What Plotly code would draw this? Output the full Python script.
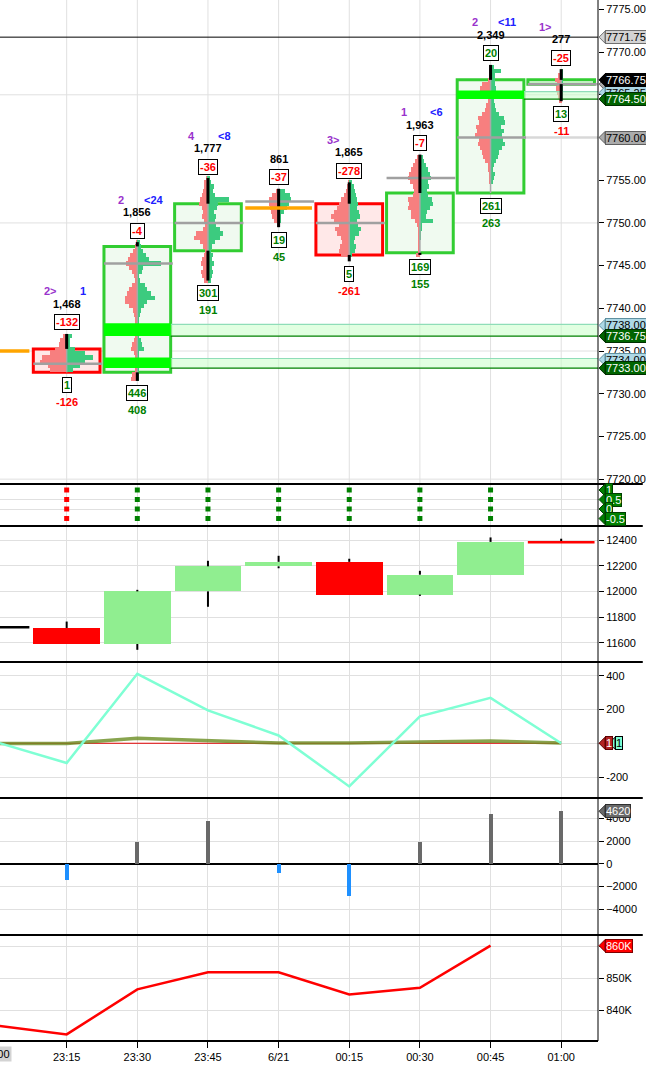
import plotly.graph_objects as go
from plotly.subplots import make_subplots

# ---------------- data ----------------
times = ["23:00", "23:15", "23:30", "23:45", "6/21", "00:15", "00:30", "00:45", "01:00"]

# main price bars (footprint candles)
opens  = [7735.00, 7735.25, 7732.50, 7746.75, 7751.75, 7752.25, 7746.50, 7753.50, 7766.25]
closes = [7735.00, 7732.50, 7747.25, 7752.25, 7751.75, 7746.25, 7753.50, 7766.75, 7766.75]
highs  = [7737.50, 7737.00, 7747.75, 7755.25, 7754.00, 7754.75, 7758.00, 7768.50, 7768.00]
lows   = [7732.25, 7732.50, 7731.50, 7743.25, 7749.50, 7745.50, 7746.25, 7753.50, 7764.25]
pocs   = [None, 7733.50, 7745.25, 7750.00, 7752.50, 7750.00, 7755.25, 7760.00, 7766.25]
poc_extended = [False, False, False, False, False, False, False, True, True]

# labels around each bar
sig_left  = ["", "2>", "2", "4", "", "3>", "1", "2", "1>"]
sig_right = ["", "1", "<24", "<8", "", "", "<6", "<11", ""]
volumes   = [None, 1468, 1856, 1777, 861, 1865, 1963, 2349, 277]
deltas    = [None, -132, -4, -36, -37, -278, -7, 20, -25]
box_low   = [None, 1, 446, 301, 19, 5, 169, 261, 13]
net_low   = [None, -126, 408, 191, 45, -261, 155, 263, -11]

# volume profiles: lowest price of each profile, then bid / ask volume per 0.5 pt row
profile_low = [None, 7732.75, 7731.75, 7743.25, 7749.75, 7746.25, 7746.25, 7754.75, 7764.25]
bid_b1 = [17, 19, 27, 25, 17, 12, 8, 7, 4]
ask_b1 = [6, 13, 18, 26, 18, 8, 3, 3, 5]
bid_b2 = [6, 5, 2, 2, 3, 2, 3, 6, 5, 3, 2, 2, 2, 2, 2, 3, 4, 8, 12, 12, 10, 8, 5, 2, 3, 5, 8, 11, 9, 7, 4, 2, 1]
ask_b2 = [1, 1, 1, 2, 2, 2, 2, 7, 5, 4, 2, 2, 3, 2, 2, 3, 4, 7, 10, 18, 14, 10, 8, 3, 2, 5, 6, 24, 12, 9, 6, 4, 3]
bid_b3 = [4, 6, 7, 5, 7, 6, 4, 3, 5, 8, 14, 12, 5, 3, 4, 6, 5, 6, 9, 8, 6, 5, 4, 4, 2]
ask_b3 = [3, 4, 5, 4, 6, 4, 5, 3, 4, 7, 12, 15, 12, 8, 7, 8, 6, 9, 10, 21, 7, 5, 6, 3, 2]
bid_b4 = [2, 5, 7, 8, 9, 10, 10, 7, 3]
ask_b4 = [1, 2, 2, 5, 8, 10, 12, 11, 6]
bid_b5 = [8, 10, 9, 7, 8, 12, 14, 10, 15, 18, 15, 12, 10, 8, 5, 3, 2, 1]
ask_b5 = [3, 6, 7, 5, 6, 10, 12, 9, 8, 11, 10, 8, 9, 8, 7, 6, 5, 3]
bid_b6 = [4, 1, 1, 1, 2, 2, 2, 3, 5, 9, 9, 12, 11, 12, 7, 6, 7, 10, 12, 11, 9, 7, 5, 3]
ask_b6 = [0, 0, 0, 0, 1, 1, 2, 2, 13, 6, 7, 10, 13, 12, 8, 7, 9, 8, 11, 10, 8, 6, 4, 3]
bid_b7 = [1, 1, 2, 3, 3, 6, 8, 9, 11, 13, 12, 16, 14, 15, 12, 13, 9, 6, 5, 3, 3, 4, 11, 9, 3, 2, 1, 0]
ask_b7 = [2, 3, 4, 2, 3, 5, 7, 8, 12, 15, 13, 12, 14, 11, 15, 14, 8, 5, 4, 3, 2, 2, 5, 4, 4, 4, 10, 3]
bid_b8 = [2, 3, 4, 5, 4, 6, 3, 1]
ask_b8 = [0, 1, 1, 1, 2, 2, 2, 2]
profile_bids = [None, bid_b1, bid_b2, bid_b3, bid_b4, bid_b5, bid_b6, bid_b7, bid_b8]
profile_asks = [None, ask_b1, ask_b2, ask_b3, ask_b4, ask_b5, ask_b6, ask_b7, ask_b8]

# imbalance zones (bar index, low, high)
zone_bar  = [2, 2, 7]
zone_low  = [7736.75, 7733.00, 7764.50]
zone_high = [7738.00, 7734.00, 7765.25]

last_high_line = 7771.75

# signal dots panel
dot_levels = [1, 0.5, 0, -0.5]
dot_signal = [None, -1, 1, 1, 1, 1, 1, 1, None]

# cumulative delta candles
cd_open  = [11720, 11715, 11590, 12000, 12195, 12230, 11975, 12130, 12386]
cd_close = [11720, 11590, 12000, 12195, 12230, 11975, 12130, 12385, 12378]
cd_high  = [11720, 11765, 12012, 12238, 12277, 12254, 12160, 12420, 12410]
cd_low   = [11720, 11590, 11545, 11880, 12180, 11975, 11965, 12130, 12378]

# oscillator lines
osc_aqua  = [8, -116, 411, 195, 47, -254, 160, 269, 1]
osc_olive = [0, 0, 30, 15, 2, 2, 8, 15, 2]
osc_red   = [1, 1, 1, 1, 1, 1, 1, 1, 1]

# histogram
hist_vals = [None, -1465, 1900, 3720, -825, -2790, 1960, 4420, 4620]

# cumulative volume line
cum_vals = [835100, 832300, 846500, 851900, 851900, 844900, 847000, 860300, None]
cum_tickvals = [840000, 850000, 860000]
cum_ticktext = ["840K", "850K", "860K"]

# ---------------- styling ----------------
FONT = "Liberation Sans, Arial, sans-serif"
XMIN, XMAX = 0.0563, 8.521
HW = 0.472
GRID = "#E0E0E0"
GREEN_TXT = "#008000"
RED_TXT = "#FF0000"
PURPLE = "#9932CC"
BLUE = "#2020FF"
PROF_SCALE = 1.0 / 71.0

row_px = [484, 42, 136, 136, 137, 106]
fig = make_subplots(rows=6, cols=1, shared_xaxes=True, vertical_spacing=0,
                    row_heights=row_px)

ranges = {1: [7719.43, 7776.1], 2: [-0.895, 1.316], 3: [11450, 12509],
          4: [-322.4, 480.9], 5: [-6259, 5785], 6: [830220, 863660]}

shapes = []
annotations = []

def seg(x0, x1, y0, y1, color, width, xref="x", yref="y", layer="above", dash=None):
    d = dict(type="line", x0=x0, x1=x1, y0=y0, y1=y1, xref=xref, yref=yref,
             layer=layer, line=dict(color=color, width=width))
    if dash:
        d["line"]["dash"] = dash
    shapes.append(d)

def rect(x0, x1, y0, y1, fill, line_color=None, width=0, xref="x", yref="y", layer="above"):
    shapes.append(dict(type="rect", x0=x0, x1=x1, y0=y0, y1=y1, xref=xref, yref=yref,
                       layer=layer, fillcolor=fill,
                       line=dict(color=line_color or fill, width=width)))

n = len(times)

# main panel grid (drawn as shapes under the boxes)
for i in range(n):
    seg(i, i, 0, 1, GRID, 1, yref="y domain", layer="below")
for gv in [7720, 7735, 7750, 7765]:
    seg(0, 1, gv, gv, GRID, 1, xref="x domain", layer="below")

# boxes
for i in range(n):
    o, c = opens[i], closes[i]
    if o == c:
        continue
    if c > o:
        rect(i - HW, i + HW, o, c, "#F0FAF0", "#32CD32", 3, layer="below")
    else:
        rect(i - HW, i + HW, c, o, "#FFE8E8", "#FF0000", 3, layer="below")

# volume profiles as horizontal bars
bid_y, bid_x, bid_base, ask_y, ask_x, ask_base = [], [], [], [], [], []
for i in range(n):
    if profile_low[i] is None:
        continue
    for k, (b, a) in enumerate(zip(profile_bids[i], profile_asks[i])):
        p = profile_low[i] + 0.5 * k
        bid_y.append(p); bid_x.append(-b * PROF_SCALE); bid_base.append(i)
        ask_y.append(p); ask_x.append(a * PROF_SCALE); ask_base.append(i)
fig.add_trace(go.Bar(orientation="h", y=bid_y, x=bid_x, base=bid_base, width=0.5,
                     marker=dict(color="#F77F7F", line=dict(width=0)), hoverinfo="skip"),
              row=1, col=1)
fig.add_trace(go.Bar(orientation="h", y=ask_y, x=ask_x, base=ask_base, width=0.5,
                     marker=dict(color="#3CCB7F", line=dict(width=0)), hoverinfo="skip"),
              row=1, col=1)

# zone extensions
for zb, zl, zh in zip(zone_bar, zone_low, zone_high):
    rect(zb + HW, XMAX, zl, zh + 0.125, "rgba(200,255,200,0.55)")
    seg(zb + HW, XMAX, zh + 0.125, zh + 0.125, "#8FDDB8", 1.2)
    seg(zb + HW, XMAX, zl, zl, "#008000", 1.2)

# center lines inside boxes
for i in range(n):
    o, c = opens[i], closes[i]
    if o != c:
        seg(i, i, min(o, c), max(o, c), "#A8A8A8", 1.5)

# green imbalance bands
for zb, zl, zh in zip(zone_bar, zone_low, zone_high):
    rect(zb - HW, zb + HW, zl, zh + 0.25, "#00FF00")

# POC lines
for i in range(n):
    if pocs[i] is None:
        continue
    if poc_extended[i]:
        seg(i + HW, XMAX, pocs[i], pocs[i], "#D8D8D8", 2.5)
    seg(i - HW, i + HW + 0.03, pocs[i], pocs[i], "#A0A0A0", 2.5)

# wicks
for i in range(n):
    o, c = opens[i], closes[i]
    if o == c:
        seg(i, i, lows[i], highs[i], "black", 3)
    else:
        if highs[i] > max(o, c):
            seg(i, i, max(o, c), highs[i], "black", 3)
        if lows[i] < min(o, c):
            seg(i, i, lows[i], min(o, c), "black", 3)

# doji lines
for i in range(n):
    if opens[i] == closes[i]:
        seg(i - HW, i + HW, opens[i], opens[i], "#FFA500", 3.5)

seg(0, 1, last_high_line, last_high_line, "black", 1, xref="x domain")

# bar labels
def lab(i, y, text, color, xshift=0, yshift=0, boxed=False):
    a = dict(x=i, y=y, xref="x", yref="y", text="<b>%s</b>" % text, showarrow=False,
             xshift=xshift, yshift=yshift, font=dict(family=FONT, size=11, color=color))
    if boxed:
        a.update(bgcolor="white", bordercolor="black", borderwidth=1, borderpad=1)
    annotations.append(a)

def sign_color(v):
    return GREEN_TXT if v >= 0 else RED_TXT

for i in range(n):
    if volumes[i] is None:
        continue
    h, l = highs[i], lows[i]
    if sig_left[i]:
        lab(i, h, sig_left[i], PURPLE, xshift=-16, yshift=42.5)
    if sig_right[i]:
        lab(i, h, sig_right[i], BLUE, xshift=16.5, yshift=42.5)
    lab(i, h, "{:,}".format(volumes[i]), "black", yshift=30)
    lab(i, h, str(deltas[i]), sign_color(deltas[i]), yshift=11.5, boxed=True)
    lab(i, l, str(box_low[i]), sign_color(box_low[i]), yshift=-12.5, boxed=True)
    lab(i, l, str(net_low[i]), sign_color(net_low[i]), yshift=-29.5)

# ---------------- panel 2: dots ----------------
dx, dy, dc = [], [], []
for i in range(n):
    if dot_signal[i] is None:
        continue
    for lv in dot_levels:
        dx.append(i); dy.append(lv)
        dc.append("#FF0000" if dot_signal[i] < 0 else "#008000")
fig.add_trace(go.Scatter(x=dx, y=dy, mode="markers",
                         marker=dict(symbol="square", size=5, color=dc, line=dict(width=0)),
                         hoverinfo="skip"), row=2, col=1)

# ---------------- panel 3: cumulative delta candles ----------------
body_x, body_base, body_h, body_col = [], [], [], []
wx, wy = [], []
flat_traces = []
for i in range(n):
    o, c = cd_open[i], cd_close[i]
    lo_b, hi_b = min(o, c), max(o, c)
    col = "#90EE90" if c > o else ("#FF0000" if c < o else "black")
    if hi_b - lo_b >= 20:
        body_x.append(i); body_base.append(lo_b); body_h.append(hi_b - lo_b); body_col.append(col)
    else:
        flat_traces.append((i, (o + c) / 2.0, col))
    if cd_high[i] > hi_b:
        wx += [i, i, None]; wy += [hi_b, cd_high[i], None]
    if cd_low[i] < lo_b:
        wx += [i, i, None]; wy += [cd_low[i], lo_b, None]
fig.add_trace(go.Bar(x=body_x, y=body_h, base=body_base, width=2 * HW,
                     marker=dict(color=body_col, line=dict(width=0)), hoverinfo="skip"),
              row=3, col=1)
fig.add_trace(go.Scatter(x=wx, y=wy, mode="lines", line=dict(color="black", width=2),
                         hoverinfo="skip"), row=3, col=1)
for (i, v, col) in flat_traces:
    fig.add_trace(go.Scatter(x=[i - HW, i + HW], y=[v, v], mode="lines",
                             line=dict(color=col, width=2.5), hoverinfo="skip"), row=3, col=1)

# ---------------- panel 4: oscillators ----------------
xs = list(range(n))
fig.add_trace(go.Scatter(x=xs, y=osc_red, mode="lines", line=dict(color="#E00000", width=1)),
              row=4, col=1)
fig.add_trace(go.Scatter(x=xs, y=osc_olive, mode="lines", opacity=0.8,
                         line=dict(color="#6B8E23", width=3.5)), row=4, col=1)
fig.add_trace(go.Scatter(x=xs, y=osc_aqua, mode="lines", line=dict(color="#7FFFD4", width=2.5)),
              row=4, col=1)

# ---------------- panel 5: histogram ----------------
hx = [i for i in range(n) if hist_vals[i] is not None]
hy = [hist_vals[i] for i in hx]
hc = ["#696969" if v >= 0 else "#1E90FF" for v in hy]
fig.add_trace(go.Bar(x=hx, y=hy, width=0.057, marker=dict(color=hc, line=dict(width=0)),
                     hoverinfo="skip"), row=5, col=1)

# ---------------- panel 6: cumulative volume ----------------
fig.add_trace(go.Scatter(x=xs, y=cum_vals, mode="lines", line=dict(color="#FF0000", width=2.5),
                         connectgaps=False), row=6, col=1)

# ---------------- axes ----------------
for r in range(1, 7):
    fig.update_xaxes(range=[XMIN, XMAX], tickvals=xs, ticktext=times, showgrid=(r != 1),
                     gridcolor=GRID, gridwidth=1, zeroline=False, showline=False,
                     row=r, col=1)
    fig.update_yaxes(range=ranges[r], side="right", showgrid=True, gridcolor=GRID,
                     zeroline=False, showline=False, ticks="outside", ticklen=5,
                     tickcolor="black", tickfont=dict(family=FONT, size=11, color="black"),
                     row=r, col=1)
fig.update_xaxes(ticks="outside", ticklen=6, tickcolor="black",
                 tickfont=dict(family=FONT, size=11, color="black"), row=6, col=1)

fig.update_yaxes(tick0=7720, dtick=5, tickformat=".2f", showgrid=False, row=1, col=1)
fig.update_yaxes(tickvals=[0, 0.5], showticklabels=False, ticks="", row=2, col=1)
fig.update_yaxes(tickvals=[11600, 11800, 12000, 12200, 12400], tickformat="d", row=3, col=1)
fig.update_yaxes(tickvals=[-200, 0, 200, 400], ticktext=["-200", "", "200", "400"], row=4, col=1)
fig.update_yaxes(tickvals=[-4000, -2000, 0, 2000, 4000], tickformat="d", zeroline=True,
                 zerolinecolor="black", zerolinewidth=1.5, row=5, col=1)
fig.update_yaxes(tickvals=cum_tickvals, ticktext=cum_ticktext, row=6, col=1)

# panel separators and right axis line
total = float(sum(row_px))
acc = 0
for h in row_px[:-1]:
    acc += h
    yy = 1 - acc / total
    seg(0, 646.0 / 601.0, yy, yy, "black", 2, xref="paper", yref="paper")
seg(0, 1, 0, 0, "black", 2, xref="paper", yref="paper")
seg(1, 1, 0, 1, "black", 1, xref="paper", yref="paper")

# first (partially hidden) time label
first_frac = (0 - XMIN) / (XMAX - XMIN)
annotations.append(dict(x=first_frac, y=0, xref="paper", yref="paper", yanchor="top",
                        xanchor="center", yshift=-5, showarrow=False, text=times[0],
                        bgcolor="#D3D3D3", borderpad=1,
                        font=dict(family=FONT, size=11, color="black")))

# price tags on right axis
def tag(yref, val, text, bg, fg, border="#404040", xshift=0):
    shapes.append(dict(type="path", xref="paper", yref=yref, xsizemode="pixel",
                       ysizemode="pixel", xanchor=1, yanchor=val,
                       path="M %d,0 L %d,6 L %d,-6 Z" % (1 + xshift, 7 + xshift, 7 + xshift),
                       fillcolor=bg, line=dict(color=border, width=1), layer="above"))
    annotations.append(dict(x=1, y=val, xref="paper", yref=yref, xanchor="left",
                            yanchor="middle", xshift=7 + xshift, showarrow=False, text=text,
                            bgcolor=bg, bordercolor=border, borderwidth=1, borderpad=0,
                            font=dict(family=FONT, size=11, color=fg)))

tag("y", last_high_line, "%.2f" % last_high_line, "#D3D3D3", "black", "#707070")
tag("y", pocs[7], "%.2f" % pocs[7], "#ABABAB", "black", "#606060")
tag("y", pocs[8], "%.2f" % pocs[8], "#ABABAB", "black", "#606060")
for zl, zh in zip(zone_low, zone_high):
    tag("y", zh, "%.2f" % zh, "#ADD8E6", "black", "#6090A0")
    tag("y", zl, "%.2f" % zl, "#006400", "white", "#003000")
tag("y", closes[8], "%.2f" % closes[8], "black", "white", "black")
for lv in dot_levels:
    tag("y2", lv, ("%g" % lv), "#008000", "white", "#004000")
tag("y4", osc_red[-1], "%g" % osc_red[-1], "#B22222", "white", "#600000")
tag("y4", osc_aqua[-1], "%g" % osc_aqua[-1], "#7FFFD4", "black", "black", xshift=10)
tag("y5", hist_vals[-1], "%d" % hist_vals[-1], "#696969", "white", "#303030")
last_cum = [v for v in cum_vals if v is not None][-1]
tag("y6", last_cum, "%dK" % round(last_cum / 1000.0), "#FF0000", "white", "#800000")

fig.update_layout(width=646, height=1067, margin=dict(l=0, r=45, t=0, b=26),
                  paper_bgcolor="white", plot_bgcolor="white", showlegend=False,
                  barmode="overlay", bargap=0, shapes=shapes, annotations=annotations,
                  font=dict(family=FONT, size=11, color="black"), hovermode=False)

fig.write_html("out.html", config={"displayModeBar": False},
               post_script="document.body.style.margin='0';document.body.style.overflow='hidden';")
